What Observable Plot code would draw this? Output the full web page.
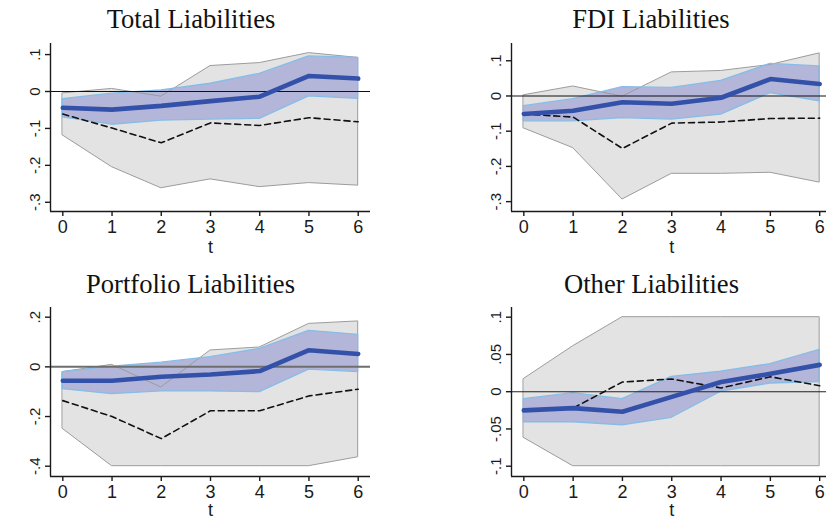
<!DOCTYPE html>
<html>
<head>
<meta charset="utf-8">
<script src="https://cdn.jsdelivr.net/npm/d3@7"></script>
<script src="https://cdn.jsdelivr.net/npm/@observablehq/plot@0.6"></script>
<style>
  html, body { margin: 0; padding: 0; background: #fff; overflow: hidden; }
  #fig { position: relative; width: 826px; height: 517px; overflow: hidden; background: #fff; }
  .panel { position: absolute; }
  .panel svg { max-width: none !important; display: block; }
  .title { position: absolute; width: 320px; text-align: center; font-family: "Liberation Serif", "Times New Roman", serif;
           font-size: 26.6px; line-height: 26.6px; color: #111; white-space: nowrap; }
</style>
</head>
<body>
<div id="fig"></div>
<script>
// ---- data ----
const t = [0, 1, 2, 3, 4, 5, 6];
const xTicks = [0, 1, 2, 3, 4, 5, 6];

const titles = ["Total Liabilities", "FDI Liabilities", "Portfolio Liabilities", "Other Liabilities"];

// Total Liabilities
const totalMain    = [-0.044, -0.049, -0.039, -0.026, -0.014, 0.042, 0.035];
const totalDash    = [-0.061, -0.099, -0.139, -0.085, -0.092, -0.071, -0.082];
const totalInnerLo = [-0.070, -0.090, -0.079, -0.076, -0.074, -0.013, -0.020];
const totalInnerHi = [-0.021, -0.006, 0.003, 0.021, 0.048, 0.095, 0.091];
const totalOuterLo = [-0.119, -0.205, -0.262, -0.238, -0.259, -0.248, -0.255];
const totalOuterHi = [-0.005, 0.007, -0.014, 0.069, 0.077, 0.104, 0.091];
const totalTicks   = [0.1, 0, -0.1, -0.2, -0.3];

// FDI Liabilities
const fdiMain    = [-0.051, -0.042, -0.018, -0.022, -0.005, 0.048, 0.034];
const fdiDash    = [-0.051, -0.060, -0.149, -0.077, -0.074, -0.064, -0.063];
const fdiInnerLo = [-0.072, -0.072, -0.063, -0.067, -0.053, 0.008, -0.015];
const fdiInnerHi = [-0.029, -0.009, 0.025, 0.023, 0.043, 0.091, 0.084];
const fdiOuterLo = [-0.092, -0.148, -0.294, -0.221, -0.221, -0.218, -0.246];
const fdiOuterHi = [0.002, 0.027, -0.002, 0.067, 0.071, 0.088, 0.121];
const fdiTicks   = [0.1, 0, -0.1, -0.2, -0.3];

// Portfolio Liabilities
const portMain    = [-0.056, -0.056, -0.040, -0.031, -0.017, 0.067, 0.052];
const portDash    = [-0.136, -0.200, -0.289, -0.177, -0.177, -0.117, -0.090];
const portInnerLo = [-0.090, -0.110, -0.099, -0.099, -0.102, -0.011, -0.021];
const portInnerHi = [-0.021, 0.001, 0.017, 0.039, 0.072, 0.145, 0.129];
const portOuterLo = [-0.250, -0.400, -0.400, -0.400, -0.400, -0.400, -0.364];
const portOuterHi = [-0.021, 0.008, -0.083, 0.066, 0.078, 0.173, 0.183];
const portTicks   = [0.2, 0, -0.2, -0.4];

// Other Liabilities
const otherMain    = [-0.025, -0.022, -0.027, -0.007, 0.013, 0.024, 0.036];
const otherDash    = [-0.024, -0.022, 0.013, 0.017, 0.005, 0.020, 0.008];
const otherInnerLo = [-0.041, -0.041, -0.045, -0.035, 0.000, 0.011, 0.013];
const otherInnerHi = [-0.010, -0.002, -0.010, 0.020, 0.027, 0.037, 0.056];
const otherOuterLo = [-0.062, -0.100, -0.100, -0.100, -0.100, -0.100, -0.100];
const otherOuterHi = [0.017, 0.061, 0.100, 0.100, 0.100, 0.100, 0.100];
const otherTicks   = [0.1, 0.05, 0, -0.05, -0.1];

// ---- build tables ----
function table(main, dash, iLo, iHi, oLo, oHi) {
  return t.map((v, i) => ({t: v, main: main[i], dash: dash[i], iLo: iLo[i], iHi: iHi[i], oLo: oLo[i], oHi: oHi[i]}));
}
const fmt = d => d === 0 ? "0" : String(d).replace("0.", ".");
const xDomain = [-0.25, 6.25];

const panels = [
  {data: table(totalMain, totalDash, totalInnerLo, totalInnerHi, totalOuterLo, totalOuterHi), ticks: totalTicks,
   yDomain: [-0.325, 0.13], left: 0, top: 0, width: 413, height: 258, mL: 50, mR: 43, mT: 43, mB: 47,
   zero: "#111", zeroW: 1.1, titleC: 191, titleB: 28, labelOffset: 41},
  {data: table(fdiMain, fdiDash, fdiInnerLo, fdiInnerHi, fdiOuterLo, fdiOuterHi), ticks: fdiTicks,
   yDomain: [-0.328, 0.149], left: 413, top: 0, width: 430, height: 258, mL: 98, mR: 11.5, mT: 43, mB: 47,
   zero: "#111", zeroW: 1.1, titleC: 651, titleB: 28, labelOffset: 41},
  {data: table(portMain, portDash, portInnerLo, portInnerHi, portOuterLo, portOuterHi), ticks: portTicks,
   yDomain: [-0.4415, 0.239], left: 0, top: 258, width: 413, height: 259, mL: 50, mR: 43, mT: 49, mB: 41,
   zero: "#6e6e6e", zeroW: 2, titleC: 190.5, titleB: 293, labelOffset: 39},
  {data: table(otherMain, otherDash, otherInnerLo, otherInnerHi, otherOuterLo, otherOuterHi), ticks: otherTicks,
   yDomain: [-0.1138, 0.113], left: 413, top: 258, width: 430, height: 259, mL: 98, mR: 11.5, mT: 49, mB: 41,
   zero: "#222", zeroW: 1.1, titleC: 651.5, titleB: 293, labelOffset: 39}
];

const fig = document.getElementById("fig");

panels.forEach((p, k) => {
  const chart = Plot.plot({
    width: p.width,
    height: p.height,
    marginLeft: p.mL, marginRight: p.mR, marginTop: p.mT, marginBottom: p.mB,
    style: {fontFamily: "'Liberation Sans', Arial, sans-serif", background: "transparent", color: "#1a1a1a", overflow: "visible", maxWidth: "none"},
    x: {domain: xDomain},
    y: {domain: p.yDomain},
    marks: [
      Plot.areaY(p.data, {x: "t", y1: "oLo", y2: "oHi", fill: "#e3e3e3"}),
      Plot.areaY(p.data, {x: "t", y1: "iLo", y2: "iHi", fill: "#b3b6d8"}),
      Plot.areaY(p.data, {x: "t", y1: "oLo", y2: "oHi", fill: "none", stroke: "#9c9c9c", strokeWidth: 1}),
      Plot.areaY(p.data, {x: "t", y1: "iLo", y2: "iHi", fill: "none", stroke: "#86bde8", strokeWidth: 1.3}),
      Plot.ruleY([0], {stroke: p.zero, strokeWidth: p.zeroW}),
      Plot.lineY(p.data, {x: "t", y: "dash", stroke: "#111", strokeWidth: 1.6, strokeDasharray: "6,4"}),
      Plot.lineY(p.data, {x: "t", y: "main", stroke: "#3451a9", strokeWidth: 4.6, strokeLinecap: "round", strokeLinejoin: "round"}),
      // axis spines along the scale extents
      Plot.ruleX([xDomain[0]], {stroke: "#1a1a1a", strokeWidth: 1.4}),
      Plot.ruleY([p.yDomain[0]], {stroke: "#1a1a1a", strokeWidth: 1.4}),
      Plot.axisY({ticks: p.ticks, tickFormat: fmt, tickRotate: -90, tickSize: 5, tickPadding: 6,
                  strokeWidth: 1.4, fontSize: 15, label: null}),
      Plot.axisX({ticks: xTicks, tickFormat: d => String(d), tickSize: 5, tickPadding: 3.5, strokeWidth: 1.4, fontSize: 18,
                  label: "t", labelAnchor: "center", labelArrow: "none", labelOffset: p.labelOffset})
    ]
  });
  const holder = document.createElement("div");
  holder.className = "panel";
  holder.style.left = p.left + "px";
  holder.style.top = p.top + "px";
  holder.style.width = p.width + "px";
  holder.style.height = p.height + "px";
  holder.appendChild(chart);
  fig.appendChild(holder);

  const title = document.createElement("div");
  title.className = "title";
  title.textContent = titles[k];
  title.style.left = (p.titleC - 160) + "px";
  title.style.top = (p.titleB - 22.3) + "px";
  fig.appendChild(title);
});
</script>
</body>
</html>
